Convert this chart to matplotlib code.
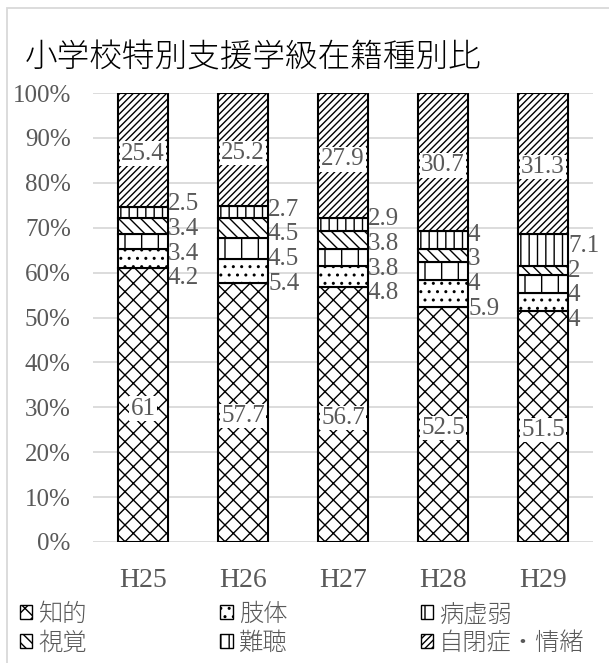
import numpy as np
import matplotlib.pyplot as plt
from matplotlib.patches import Patch, Rectangle

# data (percent) ------------------------------------------------
years = ['H25', 'H26', 'H27', 'H28', 'H29']
chiteki = [61, 57.7, 56.7, 52.5, 51.5]
shitai = [4.2, 5.4, 4.8, 5.9, 4]
byokyo = [3.4, 4.5, 3.8, 4, 4]
shikaku = [3.4, 4.5, 3.8, 3, 2]
nancho = [2.5, 2.7, 2.9, 4, 7.1]
jiheisho = [25.4, 25.2, 27.9, 30.7, 31.3]

names = ['知的', '肢体', '病虚弱', '視覚', '難聴', '自閉症・情緒']
series = [chiteki, shitai, byokyo, shikaku, nancho, jiheisho]
hatches = ['xx', '..', '|', '\\\\\\', '||', '/////']

plt.rcParams['hatch.linewidth'] = 1.0
num_font = 'Liberation Serif'
jp_font = ['Noto Sans CJK JP', 'DejaVu Sans']
gray = '#595959'

fig = plt.figure(figsize=(6.09, 6.63), dpi=100)
ax = fig.add_axes([93/609, 1 - 542/663, 500/609, 449/663])

vals = np.array(series, dtype=float)
totals = vals.sum(axis=0)
fracs = vals / totals * 100
x = np.arange(len(years))
bottom = np.zeros(len(years))
bw = 0.5

for i, name in enumerate(names):
    ax.bar(x, fracs[i], bw, bottom=bottom, color='white', edgecolor='black',
           hatch=hatches[i], linewidth=1.5, zorder=2)
    bottom += fracs[i]

starts = np.vstack([np.zeros(len(years)), np.cumsum(fracs, axis=0)[:-1]])
mids = starts + fracs / 2


def spread(ys, gap=5.5):
    ys = list(ys)
    for _ in range(300):
        for k in range(len(ys) - 1):
            d = ys[k + 1] - ys[k]
            if d < gap:
                s = (gap - d) / 2
                ys[k] -= s
                ys[k + 1] += s
    return ys


for j in range(len(years)):
    # big segments: centred, white box
    for i in (0, 5):
        ax.text(x[j], mids[i, j] - 0.8, f'{series[i][j]:g}', ha='center', va='center',
                fontsize=18, family=num_font, color=gray, zorder=4,
                bbox=dict(boxstyle='square,pad=0.05', fc='white', ec='none'))
    # small segments: right of bar, spread apart
    ys = spread(mids[1:5, j])
    for i, yy in zip(range(1, 5), ys):
        ax.text(x[j] + bw / 2, yy - 1.5, f'{series[i][j]:g}', ha='left',
                va='center', fontsize=18, family=num_font, color=gray, zorder=1)

ax.set_xlim(-0.5, 4.5)
ax.set_ylim(0, 100)
ax.set_yticks(np.arange(0, 101, 10))
ax.set_yticklabels([f'{v}%' for v in range(0, 101, 10)])
ax.set_xticks(x)
ax.set_xticklabels(years)
ax.tick_params(axis='y', length=0, pad=16, labelsize=18, labelcolor=gray)
ax.tick_params(axis='x', length=0, pad=19, labelsize=20, labelcolor=gray)
for lab in ax.get_xticklabels() + ax.get_yticklabels():
    lab.set_family(num_font)
for s in ax.spines.values():
    s.set_visible(False)
ax.grid(axis='y', color='#d9d9d9', linewidth=1.3, zorder=0)
ax.set_axisbelow(True)

# title
fig.text(25/609, 1 - 58/663, '小学校特別支援学級在籍種別比', fontsize=23.5,
         va='center', ha='left', family=jp_font, weight='light', color='black')

# legend (row-major order like the original)
order = [0, 3, 1, 4, 2, 5]
handles = [Patch(facecolor='white', edgecolor='black', hatch=hatches[i],
                 linewidth=1.0) for i in order]
fig.legend(handles, [names[i] for i in order], loc='upper left',
           bbox_to_anchor=(20/609, 1 - 602/663), ncol=3, frameon=False,
           prop={'family': jp_font, 'size': 17.5, 'weight': 'light'}, labelcolor=gray,
           handlelength=0.5, handleheight=0.5, handletextpad=0.25,
           columnspacing=5.5, labelspacing=0.15, borderpad=0, borderaxespad=0)

# outer chart border
fig.add_artist(Rectangle((6.5/609, -0.2), 1.5, 1.2 - 8/663, transform=fig.transFigure,
                         fill=False, edgecolor='#d9d9d9', linewidth=1.3))

fig.savefig('out.png', dpi=100)
